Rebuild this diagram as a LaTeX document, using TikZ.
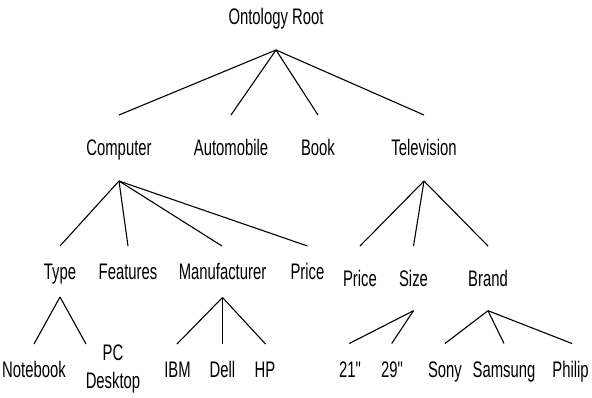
\documentclass[tikz,border=0pt]{standalone}
\usepackage{fontspec}
\setmainfont[FakeStretch=0.66, Ligatures=TeXOff]{Liberation Sans}
\begin{document}
\begin{tikzpicture}[x=1pt,y=-1pt,
  lbl/.style={font=\fontsize{22.5}{28}\selectfont, inner sep=0pt, anchor=base},
  edge/.style={line width=1.1pt}]
\useasboundingbox (0,0) rectangle (592,397);
% root
\node[lbl] (root) at (276,24) {Ontology Root};
\coordinate (rootO) at (276,50);
% level 1
\node[lbl] (comp) at (119,155) {Computer};
\coordinate (compI) at (119,115); \coordinate (compO) at (119,181);
\node[lbl] (auto) at (231,155) {Automobile};
\coordinate (autoI) at (231,115);
\node[lbl] (book) at (318,155) {Book};
\coordinate (bookI) at (318,115);
\node[lbl] (tv) at (424,155) {Television};
\coordinate (tvI) at (424,115); \coordinate (tvO) at (424,181);
% level 2 (computer)
\node[lbl] (type) at (60,279) {Type};
\coordinate (typeI) at (60,246); \coordinate (typeO) at (60,297);
\node[lbl] (feat) at (128,279) {Features};
\coordinate (featI) at (128,246);
\node[lbl] (manu) at (222.5,279) {Manufacturer};
\coordinate (manuI) at (222,246); \coordinate (manuO) at (222.5,297.5);
\node[lbl] (cprice) at (307.5,279) {Price};
\coordinate (cpriceI) at (307.5,246);
% level 2 (television)
\node[lbl] (tprice) at (360,286) {Price};
\coordinate (tpriceI) at (360,246);
\node[lbl] (size) at (413.5,286) {Size};
\coordinate (sizeI) at (413.5,246); \coordinate (sizeO) at (413.5,310.7);
\node[lbl] (brand) at (488,286) {Brand};
\coordinate (brandI) at (488,246); \coordinate (brandO) at (488,310.7);
% level 3
\node[lbl] (note) at (34,377) {Notebook};
\coordinate (noteI) at (34,344);
\node[lbl, anchor=center, align=center] (pcd) at (113,369) {PC\\Desktop};
\coordinate (pcdI) at (86,344);
\node[lbl] (ibm) at (177.5,377) {IBM};
\coordinate (ibmI) at (177,344);
\node[lbl] (dell) at (222.5,377) {Dell};
\coordinate (dellI) at (222.5,344);
\node[lbl] (hp) at (265,377) {HP};
\coordinate (hpI) at (265.5,344);
\node[lbl] (s21) at (350,377) {21"};
\coordinate (s21I) at (349.3,343.5);
\node[lbl] (s29) at (392,377) {29"};
\coordinate (s29I) at (391.7,343.5);
\node[lbl] (sony) at (445,377) {Sony};
\coordinate (sonyI) at (445,343.5);
\node[lbl] (sams) at (504,377) {Samsung};
\coordinate (samsI) at (504,343.5);
\node[lbl] (phil) at (570.5,377) {Philip};
\coordinate (philI) at (572,343.5);
% connectors
\draw[edge] (rootO) -- (compI);
\draw[edge] (rootO) -- (autoI);
\draw[edge] (rootO) -- (bookI);
\draw[edge] (rootO) -- (tvI);
\draw[edge] (compO) -- (typeI);
\draw[edge] (compO) -- (featI);
\draw[edge] (compO) -- (manuI);
\draw[edge] (compO) -- (cpriceI);
\draw[edge] (tvO) -- (tpriceI);
\draw[edge] (tvO) -- (sizeI);
\draw[edge] (tvO) -- (brandI);
\draw[edge] (typeO) -- (noteI);
\draw[edge] (typeO) -- (pcdI);
\draw[edge] (manuO) -- (ibmI);
\draw[edge] (manuO) -- (dellI);
\draw[edge] (manuO) -- (hpI);
\draw[edge] (sizeO) -- (s21I);
\draw[edge] (sizeO) -- (s29I);
\draw[edge] (brandO) -- (sonyI);
\draw[edge] (brandO) -- (samsI);
\draw[edge] (brandO) -- (philI);
\end{tikzpicture}
\end{document}
